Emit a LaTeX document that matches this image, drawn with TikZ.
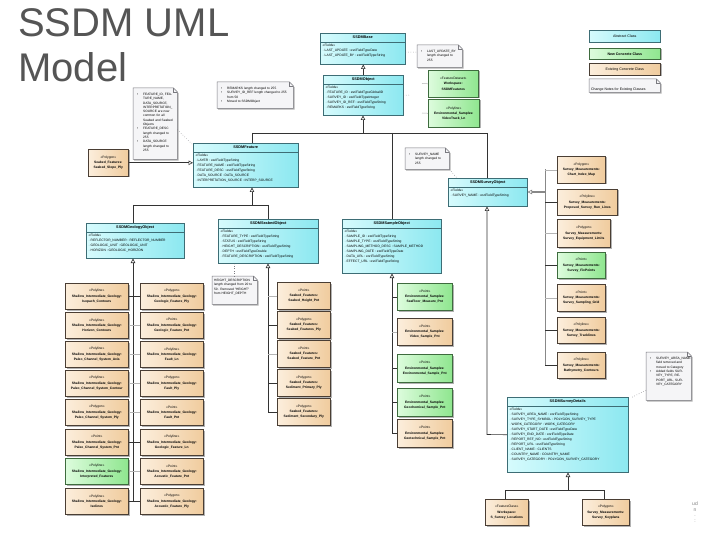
\documentclass[tikz,border=0pt]{standalone}
\usepackage{fontspec}
\setmainfont{Liberation Sans}
\usetikzlibrary{arrows.meta,shadows,calc}
\definecolor{cyL}{HTML}{D6FBFD}
\definecolor{cyD}{HTML}{8CE8F0}
\definecolor{cyB}{HTML}{3D6D75}
\definecolor{tnL}{HTML}{FCEEDC}
\definecolor{tnD}{HTML}{F0CC9E}
\definecolor{tnB}{HTML}{4A3E34}
\definecolor{grL}{HTML}{DDFCDD}
\definecolor{grD}{HTML}{8FE68F}
\definecolor{grB}{HTML}{3E6B3E}
\definecolor{ntF}{HTML}{F5F5F7}
\definecolor{ntB}{HTML}{7A7A80}
\definecolor{ttl}{HTML}{555555}
\definecolor{cn}{HTML}{333333}
\definecolor{cnl}{HTML}{B4B4B4}
\definecolor{cnm}{HTML}{888888}
\tikzset{
 shd/.style={drop shadow={shadow xshift=1.2pt,shadow yshift=-1.2pt,fill=black,opacity=0.3}},
 absbox/.style={shd,draw=cyB,line width=0.5pt,left color=cyL,right color=cyD,inner sep=0pt},
 tanbox/.style={shd,draw=tnB,line width=0.6pt,left color=tnL,right color=tnD,inner sep=0.5pt,align=center,font=\fontsize{3.3}{5.2}\selectfont},
 grnbox/.style={shd,draw=grB,line width=0.6pt,left color=grL,right color=grD,inner sep=0.5pt,align=center,font=\fontsize{3.3}{5.2}\selectfont},
 clstitle/.style={font=\fontsize{3.8}{4.5}\selectfont\bfseries,inner sep=0pt},
 clsattr/.style={font=\fontsize{3.3}{5}\selectfont,align=left,inner sep=0pt},
 notest/.style={shd,fill=ntF,draw=ntB,line width=0.5pt},
 notetx/.style={font=\fontsize{3.2}{4.3}\selectfont,align=left,inner sep=0pt},
 conn/.style={draw=cn,line width=0.6pt},
 connl/.style={draw=cnl,line width=0.5pt},
 connm/.style={draw=cnm,line width=0.6pt},
 gen/.style={conn,-{Triangle[open,length=4.5pt,width=4.5pt]}},
 dotl/.style={draw=ntB,line width=0.5pt,dotted},
 legtx/.style={font=\fontsize{3.6}{4.5}\selectfont}
}
\newcommand\umlcls[7]{%
 \node[absbox,anchor=north west,minimum width=#4pt,minimum height=#5pt] (#1) at (#2,#3) {};
 \draw[draw=cyB,line width=0.4pt] ([yshift=-9pt]#1.north west) -- ([yshift=-9pt]#1.north east);
 \node[clstitle] at ([yshift=-4.5pt]#1.north) {#6};
 \node[clsattr,anchor=north west] at ([shift={(2.5pt,-10.5pt)}]#1.north west) {#7};
}
\newcommand\notebx[8]{%
 \node[anchor=north west,minimum width=#4pt,minimum height=#5pt,inner sep=0pt] (#1) at (#2,#3) {};
 \filldraw[notest] (#1.north west) -- ([xshift=-4pt]#1.north east) -- ([yshift=-4pt]#1.north east) -- (#1.south east) -- (#1.south west) -- cycle;
 \draw[draw=ntB,line width=0.4pt] ([xshift=-4pt]#1.north east) |- ([yshift=-4pt]#1.north east);
 \node[notetx,anchor=north west,text width=#7pt] at ([shift={(#6pt,-3pt)}]#1.north west) {#8};
}
\newcommand\nitem{\par\leavevmode\llap{\textbullet\hspace{5pt}}}
\newcommand\tbox[7]{\node[#1box,anchor=north west,minimum width=#5pt,minimum height=#6pt] (#2) at (#3,#4) {#7};}
\newcommand\sig{Shallow\_Intermediate\_Geology:}
\begin{document}
\begin{tikzpicture}[x=1pt,y=-1pt]
\useasboundingbox (0,0) rectangle (720,540);
\fill[white] (0,0) rectangle (720,540);
% title
\node[anchor=base west,inner sep=0pt,font=\fontsize{40}{44}\selectfont,text=ttl] (t1) at (18,37) {SSDM UML};
\node[anchor=base west,inner sep=0pt,font=\fontsize{40}{44}\selectfont,text=ttl] (t2) at (18,82) {Model};
% legend
\node[absbox,anchor=north west,minimum width=71pt,minimum height=12pt,legtx] (legA) at (589,30) {Abstract Class};
\node[grnbox,anchor=north west,minimum width=71pt,minimum height=11pt,legtx,font=\fontsize{3.6}{4.5}\selectfont\bfseries] (legN) at (589,48) {New Concrete Class};
\node[tanbox,anchor=north west,minimum width=71pt,minimum height=12pt,legtx] (legE) at (589,63) {Existing Concrete Class};
\notebx{legC}{589}{79}{71}{13}{2}{64}{\fontsize{3.5}{4.5}\selectfont\rule{0pt}{4pt}\\Change Notes for Existing Classes}
% abstract classes
\umlcls{base}{320}{33}{85}{31}{SSDMBase}{«Fields»\\· LAST\_UPDATE : esriFieldTypeDate\\· LAST\_UPDATE\_BY : esriFieldTypeString}
\umlcls{obj}{323}{75}{80}{40}{SSDMObject}{«Fields»\\· FEATURE\_ID : esriFieldTypeGlobalID\\· SURVEY\_ID : esriFieldTypeInteger\\· SURVEY\_ID\_REF : esriFieldTypeString\\· REMARKS : esriFieldTypeString}
\umlcls{feat}{193}{143}{105}{44}{SSDMFeature}{«Fields»\\· LAYER : esriFieldTypeString\\· FEATURE\_NAME : esriFieldTypeString\\· FEATURE\_DESC : esriFieldTypeString\\· DATA\_SOURCE : DATA\_SOURCE\\· INTERPRETATION\_SOURCE : INTERP\_SOURCE}
\umlcls{geo}{86}{223}{98}{35}{SSDMGeologyObject}{«Fields»\\· REFLECTOR\_NUMBER : REFLECTOR\_NUMBER\\· GEOLOGIC\_UNIT : GEOLOGIC\_UNIT\\· HORIZON : GEOLOGIC\_HORIZON}
\umlcls{sea}{218}{219}{100}{44}{SSDMSeabedObject}{«Fields»\\· FEATURE\_TYPE : esriFieldTypeString\\· STATUS : esriFieldTypeString\\· HEIGHT\_DESCRIPTION : esriFieldTypeString\\· DEPTH : esriFieldTypeDouble\\· FEATURE\_DESCRIPTION : esriFieldTypeString}
\umlcls{samp}{342}{219}{99}{54}{SSDMSampleObject}{«Fields»\\· SAMPLE\_ID : esriFieldTypeString\\· SAMPLE\_TYPE : esriFieldTypeString\\· SAMPLING\_METHOD\_DESC : SAMPLE\_METHOD\\· SAMPLING\_DATE : esriFieldTypeDate\\· DATA\_URL : esriFieldTypeString\\· EFFECT\_URL : esriFieldTypeString}
\umlcls{surv}{448}{178}{79}{28}{SSDMSurveyObject}{«Fields»\\· SURVEY\_NAME : esriFieldTypeString}
\umlcls{det}{507}{397}{121}{75}{SSDMSurveyDetails}{«Fields»\\· SURVEY\_AREA\_NAME : esriFieldTypeString\\· SURVEY\_TYPE\_SYMBOL : POLYGON\_SURVEY\_TYPE\\· WORK\_CATEGORY : WORK\_CATEGORY\\· SURVEY\_START\_DATE : esriFieldTypeDate\\· SURVEY\_END\_DATE : esriFieldTypeDate\\· REPORT\_REF\_NO : esriFieldTypeString\\· REPORT\_URL : esriFieldTypeString\\· CLIENT\_NAME : CLIENTS\\· COUNTRY\_NAME : COUNTRY\_NAME\\· SURVEY\_CATEGORY : POLYGON\_SURVEY\_CATEGORY}
% notes
\notebx{nA}{417}{45}{45}{22}{10}{32}{\nitem LAST\_UPDATE\_BY length changed to 255}
\notebx{n1}{133}{88}{44}{71}{10}{31}{\nitem FEATURE\_ID, FEATURE\_NAME, DATA\_SOURCE, INTERPRETA\-TION\_ SOURCE are now common for all Seabed and Seabed Objects\nitem FEATURE\_DESC length changed to 255\nitem DATA\_SOURCE length changed to 255}
\notebx{n2}{217}{82}{76}{26}{10}{62}{\nitem REMARKS length changed to 255\nitem SURVEY\_ID\_REF length changed to 255 from 50\nitem Moved to SSDMObject}
\notebx{n3}{405}{148}{44}{21}{10}{31}{\nitem SURVEY\_NAME length changed to 255}
\notebx{n4}{212}{276}{45}{28}{2}{41}{HEIGHT\_DESCRIPTION length changed from 20 to 50. Removed "HEIGHT" from HEIGHT\_DEPTH}
\notebx{n5}{646}{352}{45}{48}{10}{31}{\nitem SURVEY\_AREA\_NAME field removed and moved to Category\nitem Added fields SURVEY\_TYPE, REPORT\_URL, SURVEY\_CATEGORY}
% green boxes top
\tbox{grn}{g1}{428}{70}{50}{27}{«FeatureDataset»\\\textbf{Workspace:}\\\textbf{SSDMFeatures}}
\tbox{grn}{g2}{428}{99}{51}{28}{«Polyline»\\\textbf{Environmental\_Samples:}\\\textbf{VideoTrack\_Ln}}
% slope
\tbox{tan}{slope}{88}{149}{40}{27}{«Polygon»\\\textbf{Seabed\_Features:}\\\textbf{Seabed\_Slope\_Ply}}
% left grid
\tbox{tan}{L1}{65}{283}{63}{26}{«Polyline»\\\textbf{\sig}\\\textbf{Isopach\_Contours}}
\tbox{tan}{L2}{65}{312}{63}{26}{«Polyline»\\\textbf{\sig}\\\textbf{Horizon\_Contours}}
\tbox{tan}{L3}{65}{341}{63}{26}{«Polyline»\\\textbf{\sig}\\\textbf{Paleo\_Channel\_System\_Axis}}
\tbox{tan}{L4}{65}{370}{63}{26}{«Polyline»\\\textbf{\sig}\\\textbf{Paleo\_Channel\_System\_Contour}}
\tbox{tan}{L5}{65}{399}{63}{26}{«Polygon»\\\textbf{\sig}\\\textbf{Paleo\_Channel\_System\_Ply}}
\tbox{tan}{L6}{65}{429}{63}{26}{«Point»\\\textbf{\sig}\\\textbf{Paleo\_Channel\_System\_Pnt}}
\tbox{grn}{L7}{65}{458}{63}{26}{«Polyline»\\\textbf{\sig}\\\textbf{Interpreted\_Features}}
\tbox{tan}{L8}{65}{488}{63}{26}{«Polyline»\\\textbf{\sig}\\\textbf{Isolines}}
\tbox{tan}{R1}{140}{283}{63}{26}{«Polygon»\\\textbf{\sig}\\\textbf{Geologic\_Feature\_Ply}}
\tbox{tan}{R2}{140}{312}{63}{26}{«Point»\\\textbf{\sig}\\\textbf{Geologic\_Feature\_Pnt}}
\tbox{tan}{R3}{140}{341}{63}{26}{«Polyline»\\\textbf{\sig}\\\textbf{Fault\_Ln}}
\tbox{tan}{R4}{140}{370}{63}{26}{«Polygon»\\\textbf{\sig}\\\textbf{Fault\_Ply}}
\tbox{tan}{R5}{140}{399}{63}{26}{«Point»\\\textbf{\sig}\\\textbf{Fault\_Pnt}}
\tbox{tan}{R6}{140}{429}{63}{26}{«Polyline»\\\textbf{\sig}\\\textbf{Geologic\_Feature\_Ln}}
\tbox{tan}{R7}{140}{458}{63}{26}{«Point»\\\textbf{\sig}\\\textbf{Acoustic\_Feature\_Pnt}}
\tbox{tan}{R8}{140}{488}{63}{26}{«Polygon»\\\textbf{\sig}\\\textbf{Acoustic\_Feature\_Ply}}
% seabed column
\tbox{tan}{S1}{277}{282}{53}{27}{«Point»\\\textbf{Seabed\_Features:}\\\textbf{Seabed\_Height\_Pnt}}
\tbox{tan}{S2}{277}{311}{53}{27}{«Polygon»\\\textbf{Seabed\_Features:}\\\textbf{Seabed\_Features\_Ply}}
\tbox{tan}{S3}{277}{340}{53}{27}{«Point»\\\textbf{Seabed\_Features:}\\\textbf{Seabed\_Feature\_Pnt}}
\tbox{tan}{S4}{277}{369}{53}{27}{«Polygon»\\\textbf{Seabed\_Features:}\\\textbf{Sediment\_Primary\_Ply}}
\tbox{tan}{S5}{277}{398}{53}{27}{«Polygon»\\\textbf{Seabed\_Features:}\\\textbf{Sediment\_Secondary\_Ply}}
% environmental samples
\tbox{grn}{E1}{397}{283}{55}{27}{«Point»\\\textbf{Environmental\_Samples:}\\\textbf{SeaFloor\_Measure\_Pnt}}
\tbox{tan}{E2}{397}{318}{55}{27}{«Point»\\\textbf{Environmental\_Samples:}\\\textbf{Video\_Sample\_Pnt}}
\tbox{grn}{E3}{397}{354}{55}{28}{«Point»\\\textbf{Environmental\_Samples:}\\\textbf{Environmental\_Sample\_Pnt}}
\tbox{grn}{E4}{397}{388}{55}{28}{«Point»\\\textbf{Environmental\_Samples:}\\\textbf{Geochemical\_Sample\_Pnt}}
\tbox{tan}{E5}{397}{419}{55}{28}{«Point»\\\textbf{Environmental\_Samples:}\\\textbf{Geotechnical\_Sample\_Pnt}}
% survey measurements
\tbox{tan}{M1}{557}{156}{48}{27}{«Polygon»\\\textbf{Survey\_Measurements:}\\\textbf{Chart\_Index\_Map}}
\tbox{tan}{M2}{557}{189}{60}{26}{«Polyline»\\\textbf{Survey\_Measurements:}\\\textbf{Proposed\_Survey\_Run\_Lines}}
\tbox{tan}{M3}{557}{219}{53}{28}{«Polygon»\\\textbf{Survey\_Measurements:}\\\textbf{Survey\_Equipment\_Limits}}
\tbox{grn}{M4}{557}{252}{48}{26}{«Point»\\\textbf{Survey\_Measurements:}\\\textbf{Survey\_FixPoints}}
\tbox{tan}{M5}{557}{284}{48}{27}{«Point»\\\textbf{Survey\_Measurements:}\\\textbf{Survey\_Sampling\_Grid}}
\tbox{tan}{M6}{557}{317}{48}{26}{«Polyline»\\\textbf{Survey\_Measurements:}\\\textbf{Survey\_Tracklines}}
\tbox{tan}{M7}{557}{352}{48}{26}{«Polyline»\\\textbf{Survey\_Measurements:}\\\textbf{Bathymetry\_Contours}}
% bottom
\tbox{tan}{B1}{485}{499}{43}{26}{«FeatureClass»\\\textbf{Workspace:}\\\textbf{S\_Survey\_Locations}}
\tbox{tan}{B2}{582}{499}{47}{26}{«Polygon»\\\textbf{Survey\_Measurements:}\\\textbf{Survey\_Keyplans}}
\node[font=\fontsize{5}{5.5}\selectfont,text=gray,align=center,inner sep=0pt] (pg) at (695,512) {ud\\n\\.\\:};
% ---- connectors ----
\draw[dotl] ([yshift=-3.5pt]base.east) -- ([yshift=4pt]nA.west);
\draw[gen] (obj.north) -- (obj.north |- base.south);
\coordinate (oe) at (410,95);
\draw[dotl] (obj.east) -- (oe);
\coordinate (gs1) at (422,83.5);
\coordinate (gs2) at (422,113);
\draw[connl] (gs1) -- (g1.west);
\draw[connl] (gs2) -- (g2.west);
% bus 1
\coordinate (b1l) at (252,133);
\coordinate (b1o) at (363,133);
\coordinate (b1m) at (392,133);
\coordinate (b1r) at (487,133);
\draw[conn] (b1l) -- (b1r);
\draw[gen] (b1o) -- (b1o |- obj.south);
\draw[conn] (b1l) -- (b1l |- feat.north);
\draw[conn] (b1m) -- (b1m |- samp.north);
\draw[conn] (b1r) -- (b1r |- surv.north);
% notes links
\draw[dotl] ([yshift=-6pt]n1.east) -- ([yshift=-2pt]feat.north west);
\draw[dotl] (n3.south east) -- ([xshift=9pt]surv.north west);
\draw[dotl] ([yshift=-14pt]n5.west) -- ([xshift=2pt,yshift=-1pt]det.north east);
\draw[dotl] (n4.north) -- (n4.north |- sea.south);
% slope
\draw[gen] (slope.east) -- (slope.east -| feat.west);
% bus 2
\coordinate (fb) at (252,205);
\coordinate (b2l) at (133,205);
\coordinate (b2r) at (268,205);
\draw[gen] (fb) -- (fb |- feat.south);
\draw[conn] (b2l) -- (b2r);
\draw[conn] (b2l) -- (b2l |- geo.north);
\draw[conn] (b2r) -- (b2r |- sea.north);
% geology trunk
\coordinate (gT) at (133,501);
\draw[gen] (gT) -- (gT |- geo.south);
\draw[conn] (L1.east) -- (L1.east -| gT); \draw[conn] (R1.west) -- (R1.west -| gT);
\draw[connl] (L2.east) -- (L2.east -| gT); \draw[connl] (R2.west) -- (R2.west -| gT);
\draw[connl] (L3.east) -- (L3.east -| gT); \draw[connl] (R3.west) -- (R3.west -| gT);
\draw[connl] (L4.east) -- (L4.east -| gT); \draw[connl] (R4.west) -- (R4.west -| gT);
\draw[connl] (L5.east) -- (L5.east -| gT); \draw[connl] (R5.west) -- (R5.west -| gT);
\draw[conn] (L6.east) -- (L6.east -| gT); \draw[conn] (R6.west) -- (R6.west -| gT);
\draw[connl] (L7.east) -- (L7.east -| gT); \draw[connl] (R7.west) -- (R7.west -| gT);
\draw[conn] (L8.east) -- (L8.east -| gT); \draw[conn] (R8.west) -- (R8.west -| gT);
% seabed trunk
\coordinate (sT) at (268,411.5);
\draw[gen] (sT) -- (sT |- sea.south);
\draw[connl] (S1.west) -- (S1.west -| sT);
\draw[conn] (S2.west) -- (S2.west -| sT);
\draw[connl] (S3.west) -- (S3.west -| sT);
\draw[conn] (S4.west) -- (S4.west -| sT);
\draw[conn] (S5.west) -- (S5.west -| sT);
% sample trunk
\coordinate (pT) at (392,433);
\draw[gen] (pT) -- (pT |- samp.south);
\draw[conn] (E1.west) -- (E1.west -| pT);
\draw[connl] (E2.west) -- (E2.west -| pT);
\draw[conn] (E3.west) -- (E3.west -| pT);
\draw[conn] (E4.west) -- (E4.west -| pT);
\draw[conn] (E5.west) -- (E5.west -| pT);
% survey details to survey object
\coordinate (dv) at (487,434.5);
\draw[gen] (det.west) -- (dv) -- (dv |- surv.south);
% survey measurements trunk
\coordinate (mT) at (545,192);
\coordinate (mTop) at (545,169.5);
\coordinate (mBot) at (545,365);
\draw[connm] (mTop) -- (mBot);
\draw[connm,line width=1.2pt,-{Triangle[open,length=4.5pt,width=4.5pt,line width=0.6pt]}] (mT) -- (mT -| surv.east);
\draw[connl] (M1.west) -- (M1.west -| mT);
\draw[conn] (M2.west) -- (M2.west -| mT);
\draw[connl] (M3.west) -- (M3.west -| mT);
\draw[conn] (M4.west) -- (M4.west -| mT);
\draw[connl] (M5.west) -- (M5.west -| mT);
\draw[conn] (M6.west) -- (M6.west -| mT);
\draw[conn] (M7.west) -- (M7.west -| mT);
% details bottom
\coordinate (db) at (568,490);
\coordinate (dbl) at (505,490);
\coordinate (dbr) at (604,490);
\draw[gen] (db) -- (db |- det.south);
\draw[conn] (dbl) -- (dbr);
\draw[conn] (dbl) -- (dbl |- B1.north);
\draw[conn] (dbr) -- (dbr |- B2.north);
\end{tikzpicture}
\end{document}
